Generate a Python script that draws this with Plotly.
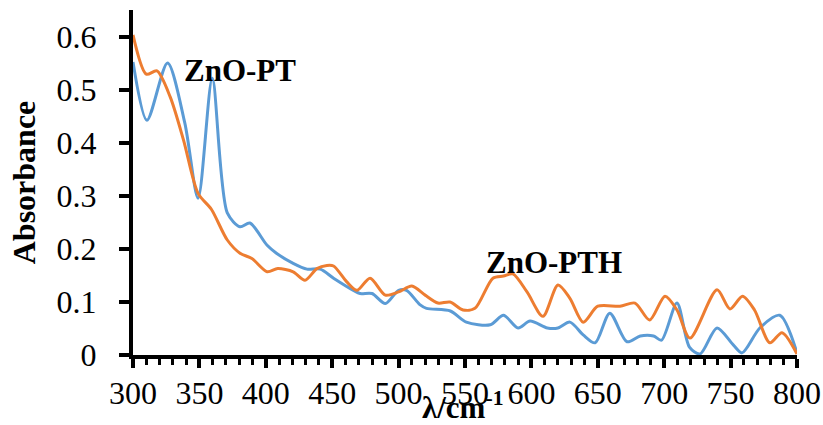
import plotly.graph_objects as go

# ZnO-PT (blue)
pt_x = [300, 310.5, 326, 339, 349, 359.7, 371, 380.6, 388, 401, 408, 420.6, 431, 441, 451, 466, 471, 480, 490, 500, 506, 516,
        521, 539, 551, 569, 579, 590, 599, 612, 620, 629, 639, 648, 659, 672, 682, 692, 698, 709.6, 719, 727, 739.8, 752, 758.6,
        772, 787, 800]
pt_y = [0.553, 0.443, 0.551, 0.438, 0.296, 0.522, 0.268, 0.242, 0.249, 0.207, 0.192, 0.173, 0.162, 0.162, 0.145, 0.122, 0.116,
        0.116, 0.097, 0.122, 0.122, 0.095,
        0.088, 0.083, 0.062, 0.057, 0.075, 0.051, 0.064, 0.051, 0.051, 0.062, 0.038, 0.023, 0.079, 0.025, 0.036, 0.036, 0.028,
        0.098, 0.015, 0.002, 0.051, 0.019, 0.004, 0.051, 0.075, 0.004]

# ZnO-PTH (orange)
pth_x = [300, 310, 318, 328, 338, 349, 359, 371, 380.6, 389.5, 401, 409, 420.6, 429.5, 438.5, 446, 451, 461, 468.7, 478.5, 490,
         500, 510, 520, 529.6, 538.7, 548.5, 557.5, 571, 579, 586, 596.7, 608.7, 620, 629, 639, 650, 666.7, 678, 689, 700.6,
         709.6, 719.4, 739.8, 749.5, 759, 768, 779.6, 788.7, 800]
pth_y = [0.604, 0.53, 0.536, 0.487, 0.406, 0.305, 0.275, 0.217, 0.192, 0.182, 0.157, 0.163, 0.157, 0.141, 0.163, 0.169, 0.168,
         0.138, 0.122, 0.145, 0.113, 0.119, 0.130, 0.113, 0.098, 0.1, 0.085, 0.088, 0.145, 0.149, 0.153, 0.119, 0.073, 0.132,
         0.107, 0.062, 0.092, 0.092, 0.098, 0.066, 0.111, 0.085, 0.032, 0.123, 0.087, 0.111, 0.085, 0.023, 0.042, 0.002]

x_ticks = [300, 350, 400, 450, 500, 550, 600, 650, 700, 750, 800]
y_ticks = [0, 0.1, 0.2, 0.3, 0.4, 0.5, 0.6]
y_labels = ["0", "0.1", "0.2", "0.3", "0.4", "0.5", "0.6"]

FONT = "Liberation Serif, Times New Roman, serif"

fig = go.Figure()
fig.add_trace(go.Scatter(x=pt_x, y=pt_y, mode="lines", name="ZnO-PT",
                         line=dict(color="#5B9BD5", width=3, shape="spline", smoothing=0.8)))
fig.add_trace(go.Scatter(x=pth_x, y=pth_y, mode="lines", name="ZnO-PTH",
                         line=dict(color="#ED7D31", width=3, shape="spline", smoothing=0.8)))

fig.update_layout(
    width=823, height=425,
    margin=dict(l=133, r=26, t=10, b=70),
    paper_bgcolor="white", plot_bgcolor="white",
    showlegend=False,
    font=dict(family=FONT, size=32, color="black"),
    xaxis=dict(range=[300, 800], tickvals=x_ticks, ticks="outside", ticklen=9, tickwidth=4,
               tickcolor="black", showline=True, linecolor="black", linewidth=4,
               showgrid=False, zeroline=False, ticklabelstandoff=-2, automargin=False,
               minor=dict(dtick=10, tick0=300, ticks="outside", ticklen=6, tickwidth=3, tickcolor="black", showgrid=False),
               tickfont=dict(family=FONT, size=32)),
    yaxis=dict(range=[0, 0.651], tickvals=y_ticks, ticktext=y_labels, ticks="outside", ticklen=10, tickwidth=4,
               tickcolor="black", showline=True, linecolor="black", linewidth=4,
               showgrid=False, zeroline=False, ticklabelstandoff=16, automargin=False,
               tickfont=dict(family=FONT, size=32)),
)

fig.add_annotation(x=380.6, y=0.536, text="<b>ZnO-PT</b>", showarrow=False,
                   xanchor="center", yanchor="middle",
                   font=dict(family=FONT, size=31, color="black"))
fig.add_annotation(x=617, y=0.175, text="<b>ZnO-PTH</b>", showarrow=False,
                   xanchor="center", yanchor="middle",
                   font=dict(family=FONT, size=31, color="black"))
fig.add_annotation(xref="paper", yref="paper", x=-0.164, y=0.501, text="<b>Absorbance</b>", textangle=-90,
                   xanchor="center", yanchor="middle",
                   showarrow=False, font=dict(family=FONT, size=32, color="black"))
fig.add_annotation(xref="paper", yref="paper", x=0.497, y=-0.21, text="<b>λ/cm<sup>-1</sup></b>",
                   xanchor="center", yanchor="bottom",
                   showarrow=False, font=dict(family=FONT, size=31, color="black"))

fig.write_html("out.html")
